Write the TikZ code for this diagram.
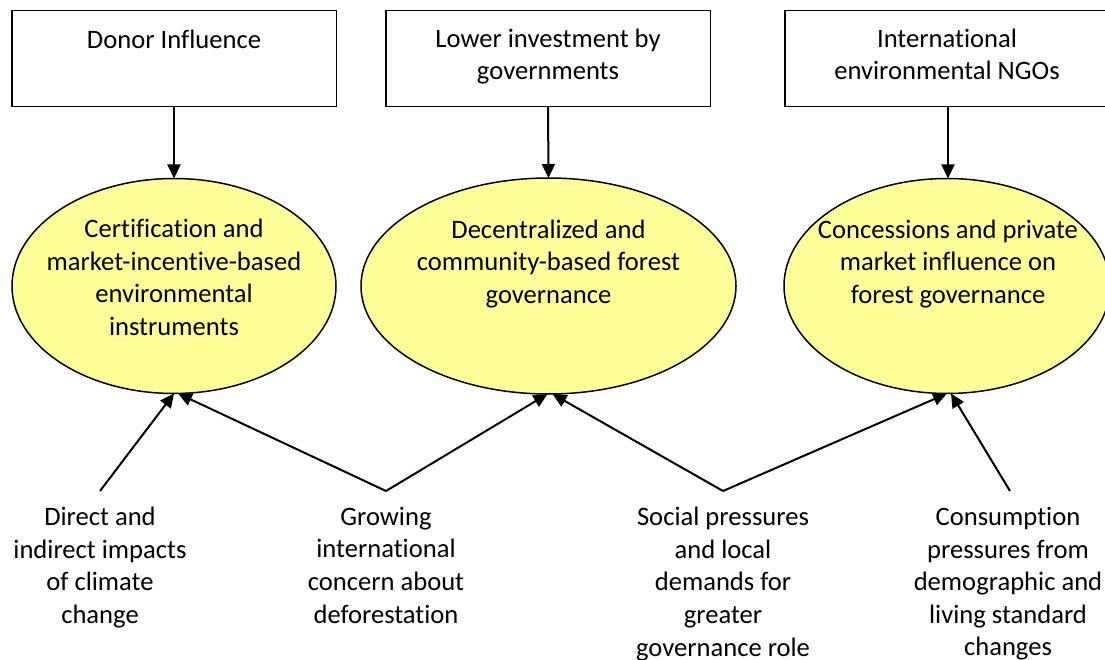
\documentclass[tikz,border=0pt]{standalone}
\usepackage{fontspec}
\setmainfont{Carlito}[Ligatures=CommonOff]
\usetikzlibrary{shapes.geometric,arrows.meta}
\definecolor{ellfill}{HTML}{FFFF99}
\begin{document}
\begin{tikzpicture}[x=1pt,y=-1pt,
  boxst/.style={draw,line width=1.5pt,rectangle,minimum height=96pt,inner sep=0pt,outer sep=0pt},
  ellst/.style={draw,line width=1.5pt,ellipse,fill=ellfill,inner sep=0pt,outer sep=0pt},
  txt/.style={font=\fontsize{26.6}{32.6}\selectfont,align=center,inner sep=0pt,
    execute at begin node=\strut,execute at end node=\strut},
  arr/.style={line width=2pt,-{Triangle[length=14pt,width=13pt]}}]
\clip (0,0) rectangle (1105,660);
\fill[white] (0,0) rectangle (1105,660);

% top boxes
\node[boxst,minimum width=324.5pt] (b1) at (174,58.6) {};
\node[boxst,minimum width=324.5pt] (b2) at (548,58.6) {};
\node[boxst,minimum width=324pt] (b3) at (947,58.6) {};
\node[txt] (tb1) at (174,42) {Donor Influence};
\node[txt] (tb2) at (548,59.2) {Lower investment by\\governments};
\node[txt] (tb3) at (947,59.2) {International\\environmental NGOs};

% ellipses
\node[ellst,minimum width=324pt,minimum height=215pt] (e1) at (174,286) {};
\node[ellst,minimum width=375pt,minimum height=216pt] (e2) at (548.5,286) {};
\node[ellst,minimum width=326pt,minimum height=215pt] (e3) at (947,286) {};
\node[txt] (te1) at (174,282.2) {Certification and\\market-incentive-based\\environmental\\instruments};
\node[txt] (te2) at (548.5,266.5) {Decentralized and\\community-based forest\\governance};
\node[txt] (te3) at (948,266.5) {Concessions and private\\market influence on\\forest governance};

% bottom texts
\node[txt] (d1) at (100,570) {Direct and\\indirect impacts\\of climate\\change};
\node[txt] (d2) at (386,570) {Growing\\international\\concern about\\deforestation};
\node[txt] (d3) at (723,586.5) {Social pressures\\and local\\demands for\\greater\\governance role};
\node[txt] (d4) at (1008,586.5) {Consumption\\pressures from\\demographic and\\living standard\\changes};

\coordinate (s1) at (100,491);
\coordinate (s2) at (386,491);
\coordinate (s3) at (723,491);
\coordinate (s4) at (1010,491);

% arrows
\draw[arr] (b1.south) -- (e1.north);
\draw[arr] (b2.south) -- (e2.north);
\draw[arr] ([xshift=1pt]b3.south) -- ([xshift=1pt]e3.north);

\draw[arr] (s1) -- (e1.south);
\draw[arr] (s2) -- ([xshift=4pt]e1.south);
\draw[arr] (s2) -- ([xshift=-1pt]e2.south);
\draw[arr] (s3) -- ([xshift=4pt]e2.south);
\draw[arr] (s3) -- (e3.south);
\draw[arr] (s4) -- ([xshift=4pt]e3.south);
\end{tikzpicture}
\end{document}
